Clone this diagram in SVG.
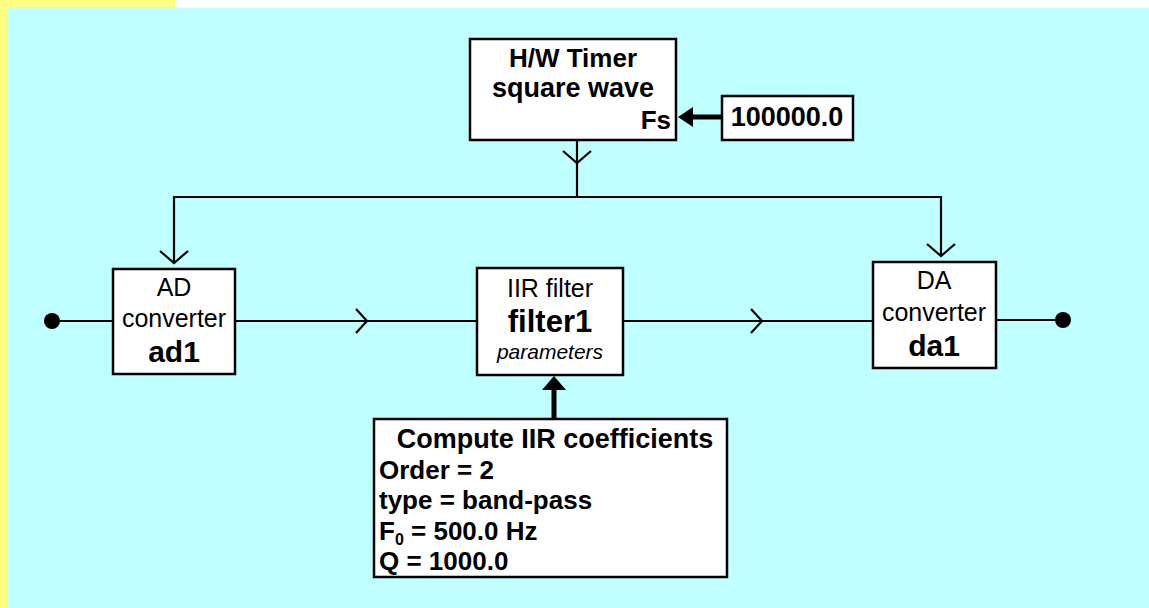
<svg xmlns="http://www.w3.org/2000/svg" width="1149" height="608" viewBox="0 0 1149 608">
<style>
.box{fill:#fff;stroke:#000;stroke-width:2.5}
.ln{fill:none;stroke:#000;stroke-width:2.2}
.thick{fill:none;stroke:#000;stroke-width:5}
.t{font-family:"Liberation Sans",Arial,sans-serif;fill:#000}
.r{font-size:25px;text-anchor:middle}
.b{font-weight:bold}
</style>
<rect x="0" y="0" width="1149" height="608" fill="#fff"/>
<rect x="0" y="0" width="175" height="608" fill="#ffff80"/>
<rect x="7" y="8" width="1142" height="600" fill="#c0ffff"/>

<g id="connectors">
<line class="ln" x1="577" y1="140" x2="577" y2="197"/>
<path class="ln" d="M563,151 L577,163 L591,151"/>
<polyline class="ln" points="174,263 174,197 941,197 941,256"/>
<path class="ln" d="M160,251 L174,263 L188,251"/>
<path class="ln" d="M927,244 L941,256 L955,244"/>
<line class="ln" x1="52" y1="321" x2="113" y2="321"/>
<circle cx="52" cy="321" r="8" fill="#000"/>
<line class="ln" x1="235" y1="321" x2="477" y2="321"/>
<path class="ln" d="M356,309 L367,321 L356,333"/>
<line class="ln" x1="623" y1="321" x2="873" y2="321"/>
<path class="ln" d="M751,309 L762,321 L751,333"/>
<line class="ln" x1="996" y1="320" x2="1063" y2="320"/>
<circle cx="1063" cy="320" r="8" fill="#000"/>
<line class="thick" x1="722" y1="117" x2="690" y2="117"/>
<polygon points="678,117 693,107 693,127" fill="#000"/>
<line class="thick" x1="554" y1="419" x2="554" y2="388"/>
<polygon points="554,376 542,390 566,390" fill="#000"/>
</g>

<g id="timer">
<rect class="box" x="470" y="39" width="206" height="101"/>
<text class="t b" x="573" y="67" font-size="26" text-anchor="middle">H/W Timer</text>
<text class="t b" x="573" y="97" font-size="27" text-anchor="middle">square wave</text>
<text class="t b" x="671" y="129" font-size="26" text-anchor="end">Fs</text>
</g>

<g id="fs-value">
<rect class="box" x="722" y="96" width="131" height="44"/>
<text class="t b" x="787" y="126" font-size="27" text-anchor="middle">100000.0</text>
</g>

<g id="ad1">
<rect class="box" x="113" y="269" width="122" height="105"/>
<text class="t r" x="174" y="296">AD</text>
<text class="t r" x="174" y="327" font-size="26">converter</text>
<text class="t b" x="174" y="362" font-size="30" text-anchor="middle">ad1</text>
</g>

<g id="filter1">
<rect class="box" x="477" y="268" width="146" height="107"/>
<text class="t r" x="550" y="297">IIR filter</text>
<text class="t b" x="550" y="332" font-size="31" text-anchor="middle">filter1</text>
<text class="t" x="550" y="359" font-size="21" font-style="italic" text-anchor="middle">parameters</text>
</g>

<g id="da1">
<rect class="box" x="873" y="262" width="123" height="106"/>
<text class="t r" x="934" y="289">DA</text>
<text class="t r" x="934" y="321" font-size="26">converter</text>
<text class="t b" x="934" y="356" font-size="30" text-anchor="middle">da1</text>
</g>

<g id="compute">
<rect class="box" x="374" y="419" width="353" height="158"/>
<text class="t b" x="555" y="448" font-size="27" text-anchor="middle">Compute IIR coefficients</text>
<text class="t b" x="379" y="479" font-size="26">Order = 2</text>
<text class="t b" x="379" y="509" font-size="26">type = band-pass</text>
<text class="t b" x="379" y="540" font-size="26">F<tspan font-size="16" dy="5">0</tspan><tspan dy="-5"> = 500.0 Hz</tspan></text>
<text class="t b" x="379" y="570" font-size="26">Q = 1000.0</text>
</g>
</svg>
